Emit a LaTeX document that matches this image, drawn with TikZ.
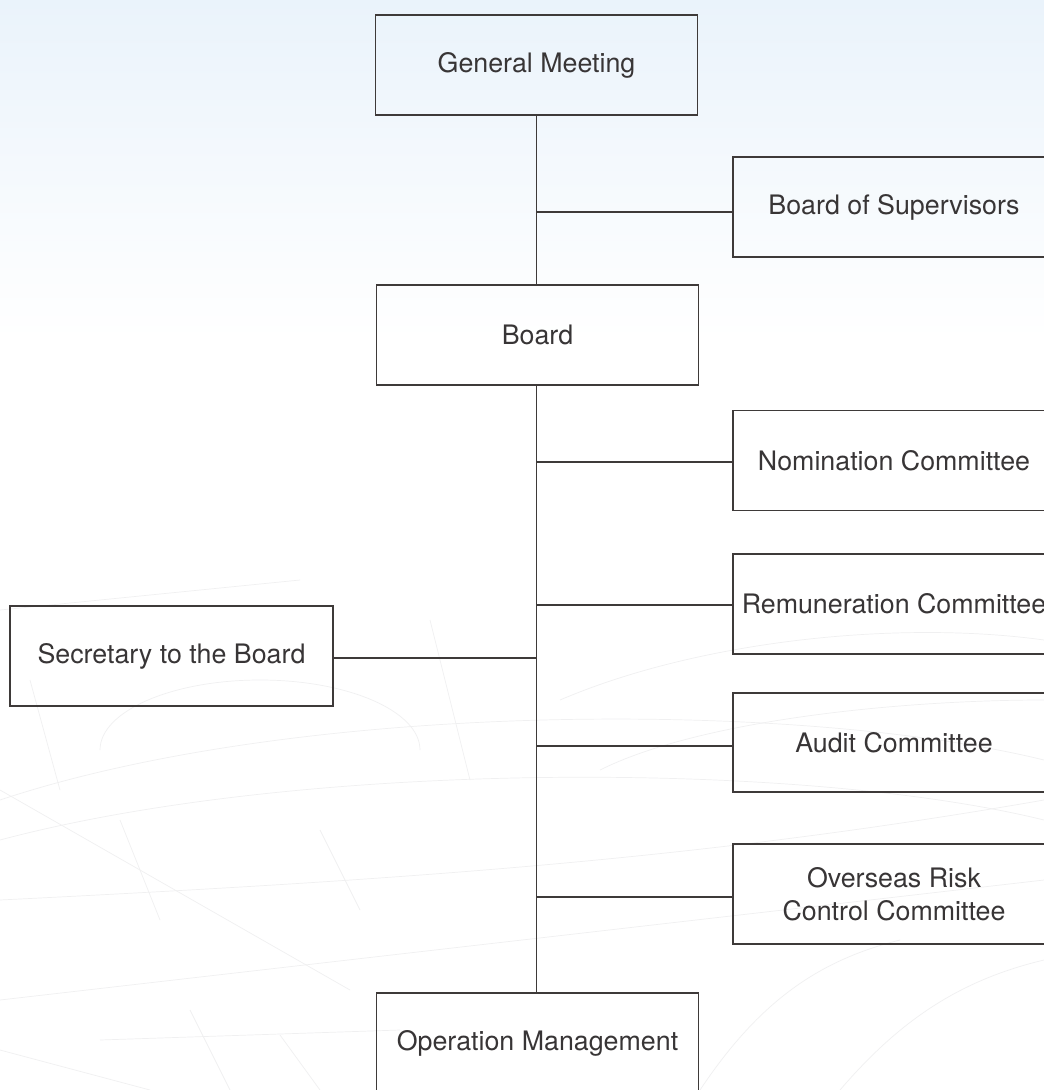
\documentclass[tikz,border=0pt]{standalone}
\usepackage{fontspec}
\setmainfont{TeX Gyre Heros}
\definecolor{bluetop}{HTML}{EAF3FB}
\definecolor{linec}{HTML}{3E3A39}
\definecolor{textc}{HTML}{383536}
\definecolor{faint}{HTML}{F0F0F1}
\begin{document}
\begin{tikzpicture}[x=1pt,y=-1pt,
  orgbox/.style={draw=linec, line width=1.3pt, minimum width=322pt, minimum height=100pt,
    inner sep=0pt, align=center, text=textc, font=\fontsize{26.8}{33}\selectfont},
  conn/.style={draw=linec, line width=1.3pt},
  bgline/.style={draw=faint, line width=0.7pt}]
\useasboundingbox (0,0) rectangle (1044,1090);
\begin{scope}
\clip (0,0) rectangle (1044,1090);
% background
\fill[white] (0,0) rectangle (1044,1090);
\shade[top color=bluetop, bottom color=white] (0,0) rectangle (1044,340);
% faint technical drawing
\draw[bgline] (0,800) .. controls (300,700) and (800,700) .. (1044,760);
\draw[bgline] (0,840) .. controls (300,760) and (800,760) .. (1044,820);
\draw[bgline] (100,750) arc[start angle=180, end angle=360, x radius=160, y radius=70];
\draw[bgline] (0,900) .. controls (400,880) and (700,860) .. (1044,800);
\draw[bgline] (0,1000) -- (1044,880);
\draw[bgline] (120,820) -- (160,920);
\draw[bgline] (320,830) -- (360,910);
\draw[bgline] (0,790) -- (350,990);
\draw[bgline] (190,1010) -- (230,1090);
\draw[bgline] (280,1035) -- (320,1090);
\draw[bgline] (100,1040) -- (400,1030);
\draw[bgline] (0,1050) -- (150,1090);
\draw[bgline] (700,1090) .. controls (760,1000) and (820,960) .. (900,940);
\draw[bgline] (840,1090) .. controls (900,1020) and (960,980) .. (1044,960);
\draw[bgline] (0,610) -- (300,580);
\draw[bgline] (30,680) -- (60,790);
\draw[bgline] (430,620) -- (470,780);
\draw[bgline] (560,700) .. controls (700,640) and (900,620) .. (1044,640);
\draw[bgline] (600,770) .. controls (700,720) and (900,700) .. (1044,700);
% nodes
\node[orgbox] (gm) at (536.5,65) {General Meeting};
\node[orgbox] (bos) at (894,207) {Board of Supervisors};
\node[orgbox] (board) at (537.5,335) {Board};
\node[orgbox] (nom) at (894,460.5) {Nomination Committee};
\node[orgbox] (rem) at (894,604) {Remuneration Committee};
\node[orgbox, minimum width=323pt] (sec) at (171.5,656) {Secretary to the Board};
\node[orgbox, minimum height=99pt] (aud) at (894,742.5) {Audit Committee};
\node[orgbox] (ovs) at (894,894) {Overseas Risk\\Control Committee};
\node[orgbox] (op) at (537.5,1043) {Operation Management};
% spine junctions
\coordinate (j1) at (536.5,212);
\coordinate (j2) at (536.5,462);
\coordinate (j3) at (536.5,605);
\coordinate (j4) at (536.5,658);
\coordinate (j5) at (536.5,746);
\coordinate (j6) at (536.5,897);
% connectors
\draw[conn] (gm.south -| j1) -- (board.north -| j1);
\draw[conn] (board.south -| j1) -- (op.north -| j1);
\draw[conn] (j1) -- (j1 -| bos.west);
\draw[conn] (j2) -- (j2 -| nom.west);
\draw[conn] (j3) -- (j3 -| rem.west);
\draw[conn] (j4) -- (j4 -| sec.east);
\draw[conn] (j5) -- (j5 -| aud.west);
\draw[conn] (j6) -- (j6 -| ovs.west);
\end{scope}
\end{tikzpicture}
\end{document}
